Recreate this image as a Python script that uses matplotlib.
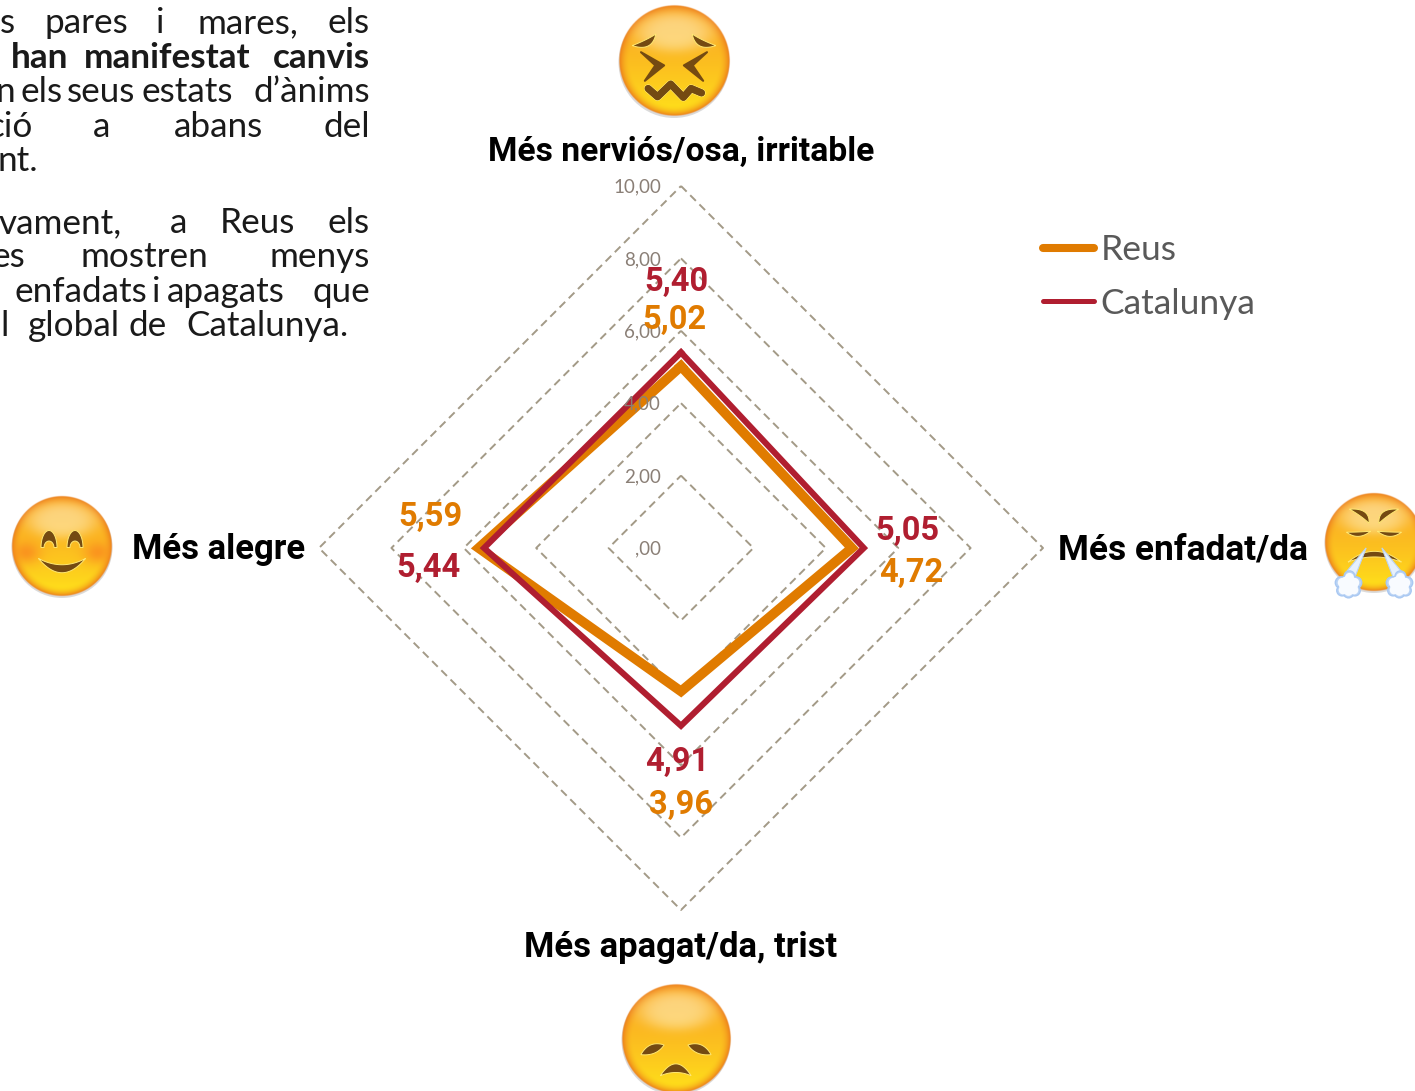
import numpy as np
import matplotlib
matplotlib.use('Agg')
import matplotlib.pyplot as plt
import matplotlib.patheffects as pe
from matplotlib.patches import Polygon, Circle

W, H = 1415, 1091
CX, CY, RADIUS = 681, 548, 362

# dades
categories = ['Més nerviós/osa, irritable', 'Més enfadat/da', 'Més apagat/da, trist', 'Més alegre']
reus = [5.02, 4.72, 3.96, 5.59]
catalunya = [5.40, 5.05, 4.91, 5.44]
grid_values = [2, 4, 6, 8, 10]
tick_values = [0, 2, 4, 6, 8, 10]
tick_labels = [',00', '2,00', '4,00', '6,00', '8,00', '10,00']
angles_deg = [0, 90, 180, 270]

ORANGE = '#E07B00'
CRIMSON = '#B01E30'
GRID = '#A39A87'
BROWN = '#744A12'

# text del costat esquerre: (paraula, vora dreta, negreta)
text_lines = [
    (33, [('s', 15), ('pares', 128), ('i', 165), ('mares,', 298), ('els', 370)], False),
    (68, [('han', 68), ('manifestat', 250), ('canvis', 370)], True),
    (102, [('n', 15), ('els', 63), ('seus', 135), ('estats', 233), ('d’ànims', 370)], False),
    (137, [('ció', 33), ('a', 110), ('abans', 263), ('del', 370)], False),
    (171, [('nt.', 38)], False),
    (233, [('vament,', 122), ('a', 187), ('Reus', 295), ('els', 370)], False),
    (267, [('es', 25), ('mostren', 208), ('menys', 370)], False),
    (302, [('enfadats', 147), ('i', 160), ('apagats', 285), ('que', 370)], False),
    (336, [('l', 9), ('global', 120), ('de', 167), ('Catalunya.', 349)], False),
]


def quad(p0, c, p2, n=24):
    t = np.linspace(0, 1, n)[:, None]
    p0, c, p2 = np.array(p0), np.array(c), np.array(p2)
    return (1 - t) ** 2 * p0 + 2 * t * (1 - t) * c + t ** 2 * p2


def crescent(ax, cx, cy, r, p0, c_out, p2, c_in):
    pts = np.vstack([quad(p0, c_out, p2), quad(p2, c_in, p0)])
    poly = Polygon(pts * r + [cx, cy], closed=True, fc=BROWN, ec='#FFE873', lw=0.7, zorder=5)
    ax.add_patch(poly)


def dome(ax, cx, cy, r, x0, y0, w, h):
    a = np.linspace(0, np.pi, 30)
    outer = np.c_[x0 + w * np.cos(a), y0 - h * np.sin(a)]
    inner = np.c_[x0 + 0.62 * w * np.cos(a[::-1]), y0 - 0.38 * h * np.sin(a[::-1])]
    pts = np.vstack([outer, inner])
    ax.add_patch(Polygon(pts * r + [cx, cy], closed=True, fc=BROWN, ec='#FFE873', lw=0.7, zorder=5))


def face(ax, cx, cy, r, blush=False):
    n = 300
    y, x = np.mgrid[-1.04:1.04:n * 1j, -1.04:1.04:n * 1j]
    d = np.hypot(x, y)
    t = np.clip((y + 1) / 2, 0, 1)[..., None] ** 1.5
    top = np.array([0.98, 0.66, 0.14])
    bottom = np.array([1.0, 0.89, 0.10])
    img = top * (1 - t) + bottom * t
    # vora taronja
    edge = np.clip((d - 0.80) / 0.20, 0, 1)[..., None] ** 2
    img = img * (1 - edge) + np.array([0.93, 0.50, 0.10]) * edge
    # brillantor de dalt
    glow = np.exp(-(((x / 0.70) ** 2 + ((y + 0.52) / 0.36) ** 2) ** 2))[..., None] * 0.55
    img = img * (1 - glow) + np.array([1.0, 0.96, 0.78]) * glow
    if blush:
        for sx in (-0.72, 0.72):
            b = np.exp(-(((x - sx) / 0.28) ** 2 + ((y - 0.13) / 0.22) ** 2))[..., None] * 0.75
            img = img * (1 - b) + np.array([0.98, 0.53, 0.12]) * b
    alpha = np.clip((1 - d) * r * 1.0 + 0.5, 0, 1)[..., None]
    rgba = np.concatenate([img, alpha], axis=2)
    ax.add_patch(Circle((cx, cy + 1.5), r + 0.5, fc='#999999', ec='none', alpha=0.35, zorder=3))
    ax.imshow(rgba, extent=(cx - 1.04 * r, cx + 1.04 * r, cy + 1.04 * r, cy - 1.04 * r),
              zorder=4, interpolation='bilinear', aspect='auto')


def emoji_top(ax, cx, cy, r):
    face(ax, cx, cy, r)
    for s in (-1, 1):
        crescent(ax, cx, cy, r, (s * .76, -.28), (s * .40, -.16), (s * .33, -.49), (s * .50, -.38))
        pts = np.array([(s * .60, -.16), (s * .18, .08), (s * .53, .36), (s * .34, .08)])
        ax.add_patch(Polygon(pts * r + [cx, cy], closed=True, fc=BROWN, ec=BROWN, lw=1.5, zorder=5,
                             joinstyle='round'))
    zig = np.array([(-.47, .50), (-.30, .65), (-.06, .42), (.17, .66), (.31, .50), (.50, .58)])
    ax.plot(zig[:, 0] * r + cx, zig[:, 1] * r + cy, color=BROWN, lw=5, zorder=5, solid_joinstyle='round',
            solid_capstyle='round', path_effects=[pe.withStroke(linewidth=6, foreground='#FFE873'), pe.Normal()])


def emoji_right(ax, cx, cy, r):
    face(ax, cx, cy, r)
    for s in (-1, 1):
        crescent(ax, cx, cy, r, (s * .50, -.67), (s * .08, -.70), (s * .10, -.38), (s * .24, -.52))
        crescent(ax, cx, cy, r, (s * .56, -.20), (s * .32, -.02), (s * .07, -.22), (s * .32, -.20))
    crescent(ax, cx, cy, r, (-.53, .41), (0, -.03), (.56, .41), (0, .20))
    # bufades
    for s in (-1, 1):
        tri = np.array([(s * .16, .12), (s * .39, .72), (s * .59, .64)])
        ax.add_patch(Polygon(tri * r + [cx, cy], closed=True, fc='#E6F0FC', ec='#BBD4F5', lw=0.8, zorder=6))
        for dx, dy, rr in [(0, .02, .20), (-.15, -.03, .12), (.15, -.03, .12), (-.13, .13, .11), (.13, .13, .11),
                           (0, .17, .11), (.02, -.16, .11)]:
            ax.add_patch(Circle((cx + (s * .52 + dx) * r, cy + (.86 + dy) * r), rr * r, fc='#BBD4F5', ec='#A9C8F2',
                                lw=1.0, zorder=7))
        for dx, dy, rr in [(0, .02, .19), (-.12, -.03, .10), (.12, -.03, .10), (-.11, .12, .09), (.11, .12, .09),
                           (0, .15, .09), (.02, -.14, .09)]:
            ax.add_patch(Circle((cx + (s * .52 + dx) * r, cy + (.86 + dy) * r), rr * r, fc='#F8FBFF', ec='none',
                                zorder=8))


def emoji_left(ax, cx, cy, r):
    face(ax, cx, cy, r, blush=True)
    for s in (-1, 1):
        dome(ax, cx, cy, r, s * .26, .03, .16, .34)
    crescent(ax, cx, cy, r, (-.47, .25), (0, .82), (.47, .25), (0, .50))


def emoji_bottom(ax, cx, cy, r):
    face(ax, cx, cy, r)
    for s in (-1, 1):
        crescent(ax, cx, cy, r, (s * .65, .29), (s * .50, .02), (s * .22, .11), (s * .36, .32))
    crescent(ax, cx, cy, r, (-.29, .68), (0, .24), (.28, .68), (0, .56))


fig = plt.figure(figsize=(W / 100, H / 100), dpi=100)

# radar
ax = fig.add_axes([(CX - RADIUS) / W, 1 - (CY + RADIUS) / H, 2 * RADIUS / W, 2 * RADIUS / H], projection='polar')
ax.set_theta_zero_location('N')
ax.set_theta_direction(-1)
ax.set_ylim(0, 10)
ax.axis('off')

theta = np.deg2rad(angles_deg + [360])
for g in grid_values:
    ax.plot(theta, [g] * 5, color=GRID, lw=1.4, dashes=(4.1, 2.6), clip_on=False, zorder=1)

ax.plot(theta, reus + reus[:1], color=ORANGE, lw=7, solid_joinstyle='miter', clip_on=False, zorder=3, label='Reus')
ax.plot(theta, catalunya + catalunya[:1], color=CRIMSON, lw=4.4, solid_joinstyle='miter', clip_on=False, zorder=4,
        label='Catalunya')

leg = ax.legend(loc='upper left', bbox_to_anchor=(1015 / W, 1 - 206 / H), bbox_transform=fig.transFigure,
                frameon=False, prop={'family': 'Lato', 'size': 25.5}, labelcolor='#595959', handlelength=1.42,
                handletextpad=0.2, labelspacing=0.60, borderpad=0.3)
for handle, lw in zip(leg.get_lines(), [5.8, 3.6]):
    handle.set_linewidth(lw)
    handle.set_solid_capstyle('round')

# capa en pixels per textos i emojis
over = fig.add_axes([0, 0, 1, 1])
over.patch.set_alpha(0)
over.axis('off')
over.set_xlim(0, W)
over.set_ylim(H, 0)
over.set_autoscale_on(False)

# etiquetes de l'eix
for v, lab in zip(tick_values, tick_labels):
    over.text(661, CY + 1 - v * RADIUS / 10, lab, ha='right', va='center', fontsize=13.5, color='#8A7F76',
              family='Lato', zorder=2)

# categories
cat_pos = [(681, 152, 'center'), (1058, 550, 'left'), (681, 947, 'center'), (132, 550, 'left')]
cat_sizes = [24.2, 25.4, 24.9, 24.9]
for name, (x, y, ha), size in zip(categories, cat_pos, cat_sizes):
    over.text(x, y, name, ha=ha, va='center', fontsize=size, fontweight='bold', family='Roboto', color='black')

# valors
reus_pos = [(674, 320), (911, 573), (681, 805), (430, 517)]
cat_val_pos = [(676, 282), (907, 531), (677, 762), (428, 568)]
for vals, pos, col in [(reus, reus_pos, ORANGE), (catalunya, cat_val_pos, CRIMSON)]:
    for v, (x, y) in zip(vals, pos):
        over.text(x, y, f'{v:.2f}'.replace('.', ','), ha='center', va='center', fontsize=23.5, fontweight='bold',
                  family='Roboto', color=col, zorder=6)

# text justificat
for base, words, bold in text_lines:
    for word, right in words:
        over.text(right, base, word, ha='right', va='baseline', fontsize=25.3, family='Lato',
                  fontweight='bold' if bold else 'normal', color='#1A1A1A')

emoji_top(over, 674, 61, 55)
emoji_right(over, 1374, 542, 49)
emoji_left(over, 62, 546, 50)
emoji_bottom(over, 676, 1039, 54)
over.set_xlim(0, W)
over.set_ylim(H, 0)

fig.savefig('out.png', dpi=100)
